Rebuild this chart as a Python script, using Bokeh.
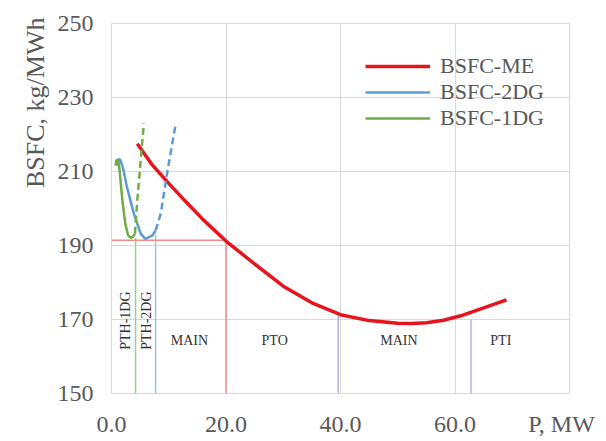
import math
from bokeh.plotting import figure
from bokeh.models import FixedTicker, Range1d, ColumnDataSource, Legend, LegendItem, Title
from bokeh.core.properties import value
from bokeh.embed import file_html
from bokeh.resources import INLINE

# BSFC curves (P in MW, BSFC in kg/MWh)
me_p = [4.5, 7, 10, 13, 16, 20, 25, 30, 35, 40, 45, 50, 52.5, 55, 58, 61, 64, 67, 69]
me_bsfc = [217.5, 212, 206.8, 201.8, 197, 191.2, 185, 179, 174.5, 171.3, 169.7, 169.0, 168.9, 169.1, 169.8, 171, 172.6, 174.2, 175.3]

dg2_p = [0.9, 1.2, 1.5, 2.0, 2.7, 3.9, 5.1, 5.9, 7.1, 7.7]
dg2_bsfc = [211.6, 213.2, 213.3, 211.0, 205.8, 198.6, 193.2, 191.8, 192.7, 194.0]
dg2_dash_p = [7.7, 8.6, 9.7, 11.2]
dg2_dash_bsfc = [194.0, 198.6, 209.4, 222.7]

dg1_p = [0.7, 0.9, 1.15, 1.4, 1.9, 2.4, 2.9, 3.3, 3.7, 4.1]
dg1_bsfc = [211.6, 213.1, 213.2, 210.5, 202.2, 195.9, 192.8, 192.1, 192.3, 193.2]
dg1_dash_p = [4.1, 4.5, 5.1, 5.65]
dg1_dash_bsfc = [193.2, 202.2, 213.0, 223.0]

# Mode boundaries
bound_p = [4.2, 7.7, 20, 39.6, 62.8]
bound_top = [192.0, 193.0, 191.4, 171.5, 170.0]
bound_colors = ["#9fd08a", "#9dc3e6", "#f08a8a", "#b4b4dc", "#b4b4dc"]
me_limit_bsfc = 191.4
me_limit_p = 20

# Mode labels
mode_labels = ["PTH-1DG", "PTH-2DG", "MAIN", "PTO", "MAIN", "PTI"]
mode_p = [2.4, 6.2, 13.6, 28.5, 50.2, 68.0]
mode_bsfc = [169.7, 169.7, 164.3, 164.3, 164.3, 164.3]
mode_angle = [math.pi / 2, math.pi / 2, 0, 0, 0, 0]

x_ticks = [0, 20, 40, 60, 78.6]
x_tick_labels = {0: "0.0", 20: "20.0", 40: "40.0", 60: "60.0", 78.6: "P, MW"}
x_grid = [0, 20, 40, 60, 80]
y_ticks = [150, 170, 190, 210, 230, 250]

SERIF = "Liberation Serif"
GRAY = "#595959"

p = figure(width=606, height=441, output_backend="svg", toolbar_location=None,
           x_range=Range1d(0, 80), y_range=Range1d(150, 250),
           min_border_left=111, min_border_right=37, min_border_top=23, min_border_bottom=48)
p.outline_line_color = "#d9d9d9"
p.background_fill_color = "white"
p.border_fill_color = "white"

p.xaxis.ticker = FixedTicker(ticks=x_ticks)
p.xaxis.major_label_overrides = x_tick_labels
p.xgrid.ticker = FixedTicker(ticks=x_grid)
p.yaxis.ticker = FixedTicker(ticks=y_ticks)
p.ygrid.ticker = FixedTicker(ticks=y_ticks)
for ax in (p.xaxis[0], p.yaxis[0]):
    ax.axis_line_color = None
    ax.major_tick_line_color = None
    ax.minor_tick_line_color = None
    ax.major_tick_out = 0
    ax.major_tick_in = 0
    ax.major_label_text_font = SERIF
    ax.major_label_text_font_size = "24px"
    ax.major_label_text_color = GRAY
p.xaxis.major_label_standoff = 17
p.yaxis.major_label_standoff = 18
for g in (p.xgrid[0], p.ygrid[0]):
    g.grid_line_color = "#d9d9d9"
    g.grid_line_width = 1

# mode boundaries
p.segment(x0=bound_p, y0=[150] * len(bound_p), x1=bound_p, y1=bound_top,
          line_color=bound_colors, line_width=1.5)
p.segment(x0=[0], y0=[me_limit_bsfc], x1=[me_limit_p], y1=[me_limit_bsfc],
          line_color="#f08a8a", line_width=1.5)

src = ColumnDataSource(dict(x=mode_p, y=mode_bsfc, t=mode_labels, a=mode_angle))
p.text(x="x", y="y", text="t", angle="a", source=src, text_align="center",
       text_baseline="middle", text_font=value(SERIF), text_font_size="14px",
       text_color="#333333")

r_me = p.line(me_p, me_bsfc, line_color="#e8141c", line_width=3.5)
r_2 = p.line(dg2_p, dg2_bsfc, line_color="#5b9bd5", line_width=2.5)
p.line(dg2_dash_p, dg2_dash_bsfc, line_color="#5b9bd5", line_width=2.5, line_dash="7 4")
r_1 = p.line(dg1_p, dg1_bsfc, line_color="#70ad47", line_width=2.5)
p.line(dg1_dash_p, dg1_dash_bsfc, line_color="#70ad47", line_width=2.5, line_dash="7 4")

legend = Legend(items=[LegendItem(label="BSFC-ME", renderers=[r_me]),
                       LegendItem(label="BSFC-2DG", renderers=[r_2]),
                       LegendItem(label="BSFC-1DG", renderers=[r_1])],
                location=(254, 262), border_line_color=None, background_fill_alpha=0,
                label_text_font=SERIF, label_text_font_size="22px", label_text_color=GRAY,
                glyph_width=65, glyph_height=24, label_height=24, spacing=0, padding=0,
                margin=0, label_standoff=10)
p.add_layout(legend)

p.add_layout(Title(text="BSFC, kg/MWh", align="right", text_font=SERIF,
                   text_font_size="26px", text_color=GRAY, text_font_style="normal",
                   offset=-6), "left")

open("out.html", "w").write(file_html(p, INLINE))
